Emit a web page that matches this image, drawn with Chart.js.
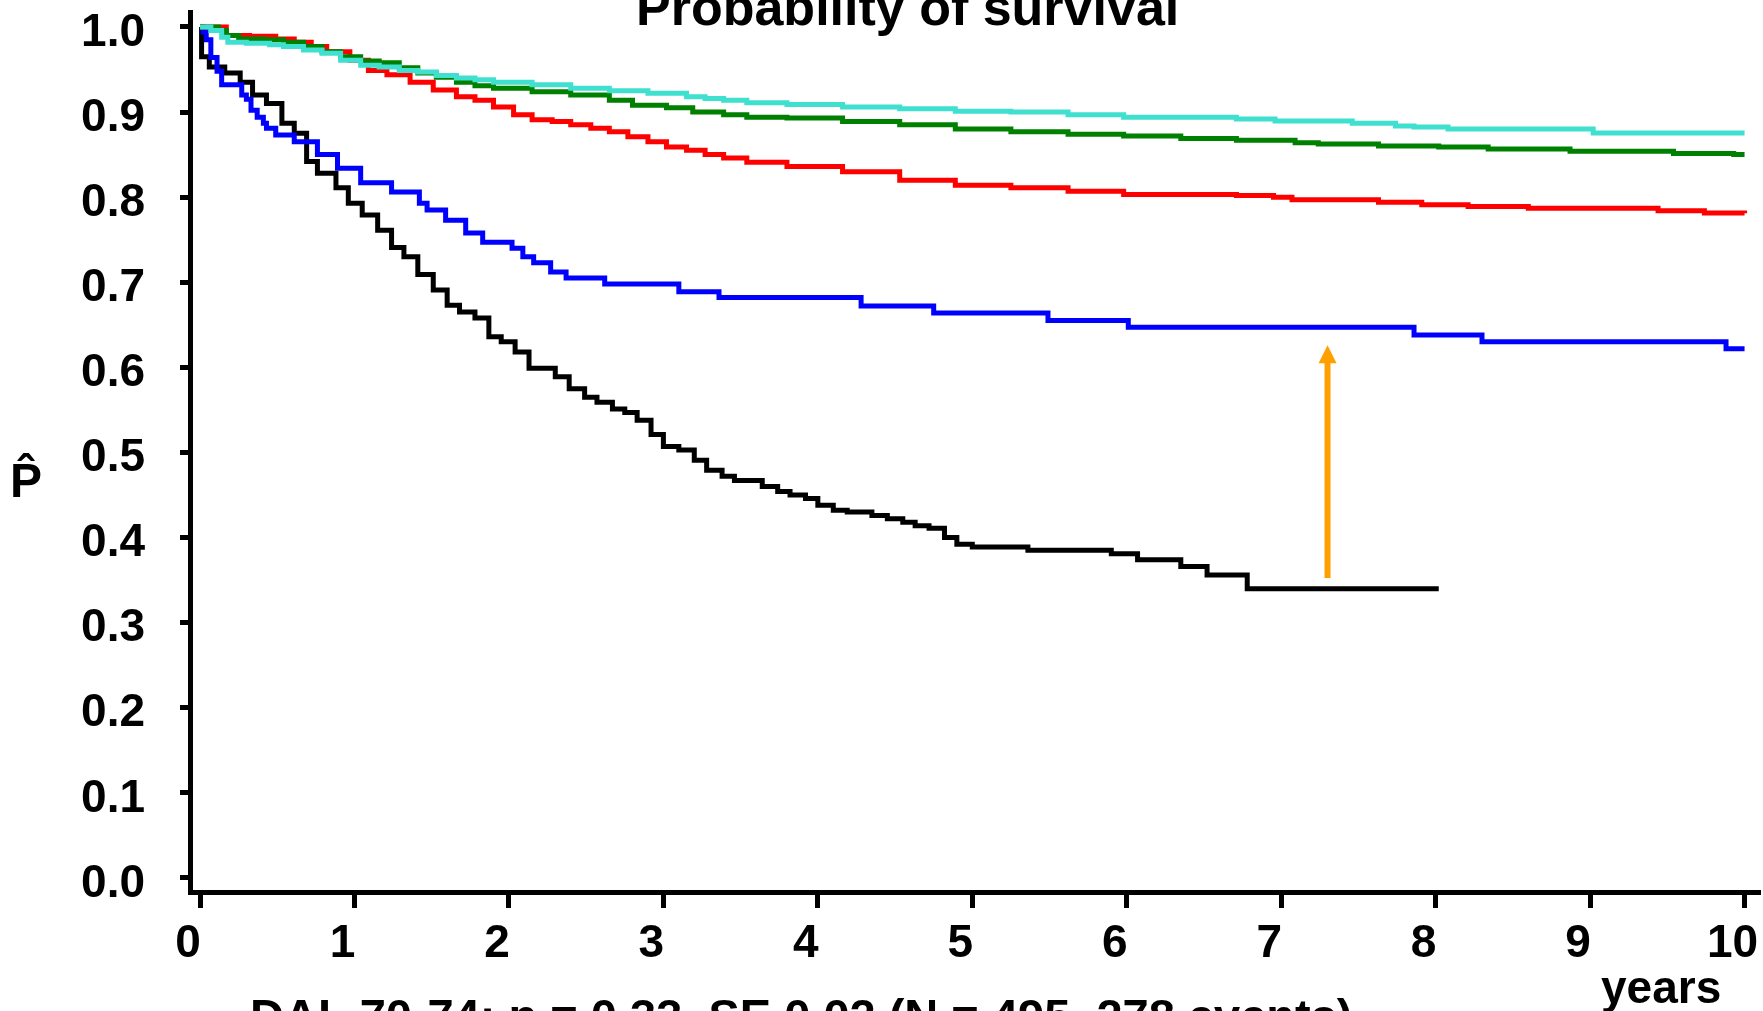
<html>
<head>
    <title>Probability of survival</title>
    <script src="https://cdn.jsdelivr.net/npm/chart.js"></script>
    <style>
        body { margin: 0; background: #fff; }
    </style>
</head>
<body>
<canvas id="chart" width="1763" height="1011"></canvas>

<script>
    // tick labels
    const xTicks = [0, 1, 2, 3, 4, 5, 6, 7, 8, 9, 10];
    const yTicks = [0.0, 0.1, 0.2, 0.3, 0.4, 0.5, 0.6, 0.7, 0.8, 0.9, 1.0];

    // survival curves (years, probability after each step)
    const cyanTime = [0, 0.07, 0.14, 0.18, 0.30, 0.45, 0.54, 0.67, 0.79, 0.91, 1.04, 1.16, 1.29, 1.41, 1.53, 1.66, 1.78, 1.90, 2.15, 2.40, 2.65, 2.90, 3.15, 3.27, 3.39, 3.54, 3.80, 4.16, 4.53, 4.89, 5.25, 5.62, 5.98, 6.35, 6.71, 6.96, 7.46, 7.74, 7.86, 8.08, 9.02, 10.0];
    const cyanSurv = [1.0, 0.996, 0.988, 0.982, 0.981, 0.979, 0.977, 0.973, 0.969, 0.961, 0.955, 0.953, 0.949, 0.947, 0.943, 0.940, 0.938, 0.935, 0.932, 0.928, 0.925, 0.922, 0.918, 0.916, 0.914, 0.911, 0.909, 0.906, 0.904, 0.901, 0.900, 0.897, 0.894, 0.894, 0.892, 0.8895, 0.887, 0.8837, 0.8825, 0.880, 0.8755, 0.8755];

    const greenTime = [0, 0.12, 0.17, 0.25, 0.42, 0.54, 0.67, 0.79, 0.91, 1.04, 1.16, 1.29, 1.41, 1.53, 1.66, 1.78, 1.90, 2.15, 2.40, 2.65, 2.80, 3.02, 3.19, 3.39, 3.54, 3.80, 4.16, 4.53, 4.89, 5.25, 5.62, 5.98, 6.35, 6.71, 7.09, 7.24, 7.63, 8.02, 8.34, 8.87, 9.54, 9.93, 10.0];
    const greenSurv = [1.0, 0.996, 0.990, 0.986, 0.985, 0.982, 0.977, 0.971, 0.965, 0.960, 0.958, 0.952, 0.946, 0.941, 0.935, 0.931, 0.928, 0.924, 0.920, 0.914, 0.908, 0.905, 0.900, 0.897, 0.894, 0.893, 0.889, 0.885, 0.880, 0.877, 0.874, 0.872, 0.869, 0.867, 0.864, 0.8625, 0.860, 0.859, 0.8566, 0.854, 0.8514, 0.850, 0.850];

    const redTime = [0, 0.17, 0.32, 0.49, 0.61, 0.72, 0.82, 0.97, 1.09, 1.21, 1.36, 1.51, 1.66, 1.78, 1.90, 2.03, 2.15, 2.28, 2.40, 2.53, 2.65, 2.77, 2.90, 3.02, 3.15, 3.27, 3.39, 3.54, 3.80, 4.16, 4.53, 4.89, 5.25, 5.62, 5.98, 6.71, 6.95, 7.07, 7.63, 7.91, 8.21, 8.60, 9.44, 9.74, 10.0];
    const redSurv = [1.0, 0.990, 0.989, 0.986, 0.982, 0.977, 0.971, 0.961, 0.949, 0.944, 0.935, 0.926, 0.918, 0.914, 0.906, 0.897, 0.891, 0.889, 0.885, 0.881, 0.877, 0.871, 0.865, 0.859, 0.855, 0.850, 0.846, 0.841, 0.836, 0.830, 0.820, 0.814, 0.811, 0.807, 0.803, 0.802, 0.800, 0.797, 0.794, 0.791, 0.789, 0.787, 0.784, 0.7815, 0.781];

    const blueTime = [0, 0.02, 0.04, 0.07, 0.11, 0.14, 0.27, 0.30, 0.33, 0.37, 0.41, 0.43, 0.49, 0.61, 0.76, 0.89, 1.04, 1.24, 1.42, 1.47, 1.59, 1.72, 1.83, 2.02, 2.09, 2.16, 2.27, 2.37, 2.62, 3.10, 3.36, 4.28, 4.75, 5.49, 6.01, 7.86, 8.30, 9.88, 10.0];
    const blueSurv = [1.0, 0.994, 0.985, 0.964, 0.948, 0.932, 0.920, 0.915, 0.902, 0.894, 0.887, 0.881, 0.873, 0.865, 0.850, 0.834, 0.817, 0.806, 0.793, 0.785, 0.773, 0.758, 0.747, 0.740, 0.730, 0.723, 0.712, 0.705, 0.698, 0.689, 0.682, 0.672, 0.664, 0.655, 0.647, 0.638, 0.630, 0.622, 0.622];

    const blackTime = [0, 0.01, 0.06, 0.16, 0.26, 0.34, 0.43, 0.53, 0.61, 0.69, 0.76, 0.88, 0.96, 1.05, 1.15, 1.24, 1.32, 1.41, 1.51, 1.60, 1.68, 1.78, 1.87, 1.95, 2.04, 2.13, 2.30, 2.39, 2.49, 2.57, 2.67, 2.75, 2.83, 2.92, 3.00, 3.10, 3.20, 3.28, 3.38, 3.46, 3.64, 3.74, 3.82, 3.92, 4.00, 4.10, 4.19, 4.35, 4.45, 4.55, 4.63, 4.72, 4.82, 4.90, 5.00, 5.36, 5.90, 6.07, 6.35, 6.52, 6.78, 8.02];
    const blackSurv = [1.0, 0.965, 0.953, 0.946, 0.935, 0.920, 0.910, 0.887, 0.875, 0.842, 0.828, 0.811, 0.793, 0.779, 0.761, 0.741, 0.730, 0.709, 0.691, 0.673, 0.665, 0.658, 0.636, 0.630, 0.618, 0.599, 0.589, 0.575, 0.565, 0.559, 0.551, 0.547, 0.538, 0.521, 0.507, 0.503, 0.491, 0.479, 0.472, 0.467, 0.460, 0.454, 0.450, 0.446, 0.438, 0.432, 0.430, 0.426, 0.422, 0.418, 0.414, 0.411, 0.400, 0.392, 0.389, 0.385, 0.381, 0.374, 0.366, 0.356, 0.340, 0.340];

    // orange arrow: year, from, to
    const arrowYear = 7.3;
    const arrowFrom = 0.3525;
    const arrowTo = 0.626;

    const FONT = "'Liberation Sans', Arial, sans-serif";

    const toPoints = (t, s) => t.map((v, i) => ({x: v, y: s[i]}));

    const curve = (t, s, color, width) => ({
        data: toPoints(t, s),
        borderColor: color,
        borderWidth: width,
        stepped: true,
        pointRadius: 0,
        fill: false
    });

    // keep the plot area where the reference has it
    const noPadding = s => {
        s.paddingTop = 0;
        s.paddingBottom = 0;
        s.paddingLeft = 0;
        s.paddingRight = 0;
    };

    // 箭頭
    const arrowPlugin = {
        id: 'arrow',
        afterDatasetsDraw(chart) {
            const {ctx, scales: {x, y}} = chart;
            const px = x.getPixelForValue(arrowYear);
            const y0 = y.getPixelForValue(arrowFrom);
            const y1 = y.getPixelForValue(arrowTo);
            ctx.save();
            ctx.strokeStyle = '#ff9f00';
            ctx.fillStyle = '#ff9f00';
            ctx.lineWidth = 6;
            ctx.beginPath();
            ctx.moveTo(px, y0);
            ctx.lineTo(px, y1 + 14);
            ctx.stroke();
            ctx.beginPath();
            ctx.moveTo(px, y1);
            ctx.lineTo(px - 9, y1 + 18);
            ctx.lineTo(px + 9, y1 + 18);
            ctx.closePath();
            ctx.fill();
            ctx.restore();
        }
    };

    // 其他文字
    const textPlugin = {
        id: 'texts',
        afterDraw(chart) {
            const ctx = chart.ctx;
            ctx.save();
            ctx.fillStyle = '#000';
            ctx.textBaseline = 'alphabetic';
            ctx.textAlign = 'left';
            ctx.font = 'bold 52px ' + FONT;
            ctx.fillText('Probability of survival', 636, 25);
            ctx.font = 'bold 46px ' + FONT;
            ctx.fillText('years', 1601, 1003);
            ctx.font = 'bold 47px ' + FONT;
            ctx.fillText('DAL 70-74: p = 0.33, SE 0.02 (N = 495, 278 events)', 250, 1032);
            ctx.font = 'bold 48px ' + FONT;
            ctx.fillText('P\u0302', 10, 497);
            ctx.restore();
        }
    };

    const ctx = document.getElementById('chart').getContext('2d');

    const chart = new Chart(ctx, {
        type: 'line',
        data: {
            datasets: [
                curve(cyanTime, cyanSurv, '#40e0d0', 5),
                curve(greenTime, greenSurv, '#008000', 5),
                curve(redTime, redSurv, '#ff0000', 5),
                curve(blueTime, blueSurv, '#0000ff', 5),
                curve(blackTime, blackSurv, '#000000', 5)
            ]
        },
        options: {
            responsive: false,
            animation: false,
            devicePixelRatio: 1,
            layout: {padding: {top: 12, right: 3, left: 0, bottom: 0}},
            plugins: {
                legend: {display: false},
                tooltip: {enabled: false}
            },
            scales: {
                x: {
                    type: 'linear',
                    min: -0.065,
                    max: 10.1,
                    afterBuildTicks: s => { s.ticks = xTicks.map(v => ({value: v})); },
                    afterFit: s => { s.height = 119; noPadding(s); },
                    grid: {drawOnChartArea: false, drawTicks: true, tickLength: 16, tickWidth: 5, tickColor: '#000'},
                    border: {display: true, color: '#000', width: 5},
                    ticks: {
                        color: '#000',
                        font: {family: FONT, size: 46, weight: 'bold'},
                        padding: 9,
                        labelOffset: -12,
                        maxRotation: 0,
                        autoSkip: false,
                        callback: v => String(v)
                    }
                },
                y: {
                    type: 'linear',
                    min: -0.0165,
                    max: 1.0176,
                    afterBuildTicks: s => { s.ticks = yTicks.map(v => ({value: v})); },
                    afterFit: s => { s.width = 190; noPadding(s); },
                    grid: {drawOnChartArea: false, drawTicks: true, tickLength: 10, tickWidth: 5, tickColor: '#000'},
                    border: {display: true, color: '#000', width: 5},
                    ticks: {
                        color: '#000',
                        font: {family: FONT, size: 46, weight: 'bold'},
                        padding: 35,
                        labelOffset: 6,
                        autoSkip: false,
                        callback: v => v.toFixed(1)
                    }
                }
            }
        },
        plugins: [arrowPlugin, textPlugin]
    });
</script>
</body>
</html>
